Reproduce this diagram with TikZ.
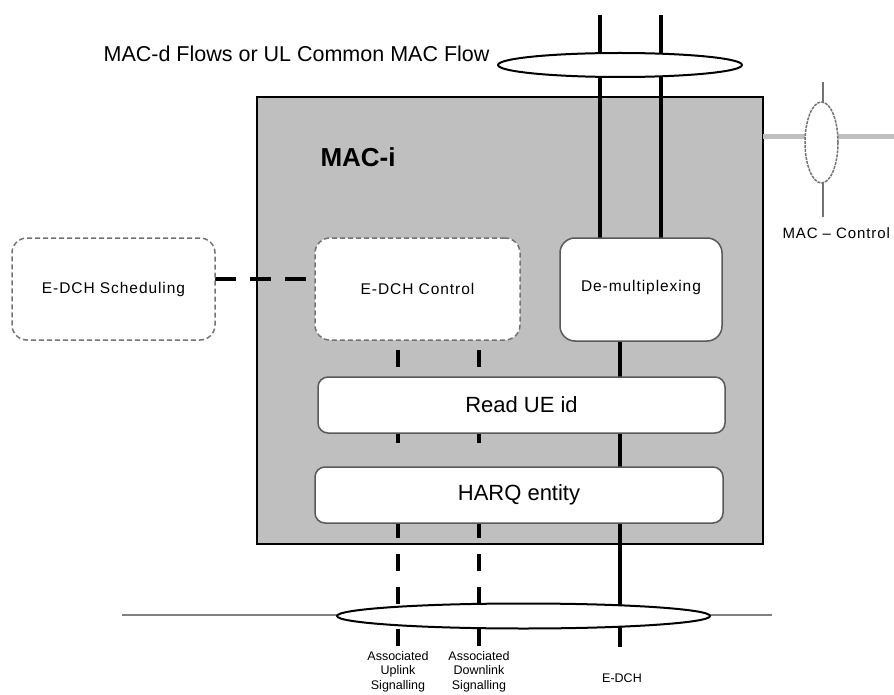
\documentclass[tikz,border=0pt]{standalone}
\usepackage{fontspec}
\setmainfont{Liberation Sans}
\newfontfamily\spacedfont[LetterSpace=6]{Liberation Sans}
\usetikzlibrary{shapes.geometric}
\pgfdeclarelayer{back}
\pgfdeclarelayer{mid}
\pgfsetlayers{back,mid,main}
\tikzset{
  every node/.style={font=\fontsize{17}{20}\selectfont},
  block/.style={draw=boxline, line width=1.5pt, fill=white, rounded corners=15pt,
    inner sep=0pt, outer sep=0pt, font=\spacedfont\fontsize{15.5}{18}\selectfont},
  dashedbox/.style={draw=dashline, dash pattern=on 5pt off 3pt},
  bar/.style={block, rounded corners=10pt, font=\fontsize{22}{26}\selectfont},
  flow/.style={line width=4pt, black},
  assoc/.style={line width=4pt, black, dash pattern=on 17pt off 16pt},
  ring/.style={ellipse, draw, line width=2pt, fill=white, inner sep=0pt, outer sep=0pt},
  siglabel/.style={align=center, inner sep=0pt, font=\fontsize{12.5}{14.5}\selectfont}
}

\begin{document}
\begin{tikzpicture}[x=1pt, y=-1pt, line join=round]
  % Fixed bounding box (reference size).
  \path[use as bounding box] (0,0) rectangle (894,695);

  % Colors.
  \colorlet{macgray}{black!25}
  \colorlet{boxline}{black!65}
  \colorlet{dashline}{black!55}
  \colorlet{busgray}{black!50}

  % MAC-i entity.
  \begin{pgfonlayer}{back}
    \node[draw, line width=1.5pt, fill=macgray, minimum width=506pt, minimum height=447pt,
      inner sep=0pt, outer sep=0pt] (maci) at (510,320.5) {};
  \end{pgfonlayer}
  \node[anchor=base west, font=\bfseries\fontsize{26}{30}\selectfont] (macilabel) at (317,167) {MAC-i};

  % Functional blocks.
  \node[block, dashedbox, minimum width=203pt, minimum height=102pt] (sched) at (113.5,289) {E-DCH Scheduling};
  \node[block, dashedbox, minimum width=205pt, minimum height=102pt] (ctrl) at (417.5,289) {E-DCH Control\hspace{9pt}};
  \node[block, minimum width=162pt, minimum height=103pt] (demux) at (641,289.5) {De-multiplexing\raisebox{0pt}[0pt][7pt]{}};
  \node[bar, minimum width=407pt, minimum height=56pt] (readue) at (521.5,405) {Read UE id};
  \node[bar, minimum width=408pt, minimum height=56pt] (harq) at (519,495) {HARQ entity};

  % Flow rings.
  \node[ring, minimum width=244pt, minimum height=24pt] (flowring) at (620,65) {};
  \node[anchor=base east, font=\fontsize{21.5}{24}\selectfont] (flowlabel) at (493,62) {MAC-d Flows or UL Common MAC Flow};
  \node[ring, minimum width=373pt, minimum height=25pt] (assocring) at (523.5,616) {};
  \node[ring, draw=dashline, line width=1.5pt, dash pattern=on 3pt off 1pt,
    minimum width=33pt, minimum height=81pt] (ctrlring) at (821.5,142.5) {};
  \node[anchor=west, font=\spacedfont\fontsize{15}{18}\selectfont] (ctrllabel) at (779,233) {MAC – Control};

  % Line ends.
  \coordinate (flowa) at (600,15);
  \coordinate (flowb) at (661,15);
  \coordinate (edch) at (620,647);
  \coordinate (ul) at (398,647);
  \coordinate (dl) at (479,647);
  \coordinate (busl) at (122,615);
  \coordinate (busr) at (772,615);
  \coordinate (ctrlr) at (894,137);
  \coordinate (ctrltop) at (823,82);
  \coordinate (ctrlbot) at (823,217);

  \begin{pgfonlayer}{mid}
    % MAC-d flows and E-DCH.
    \draw[flow] (flowa) -- (flowa |- demux.north);
    \draw[flow] (flowb) -- (flowb |- demux.north);
    \draw[flow] (edch |- demux.south) -- (edch);

    % Associated signalling.
    \foreach \sig in {ul,dl} {
      \draw[assoc, dash phase=23pt] (\sig |- ctrl.south) -- (\sig |- readue.north);
      \draw[assoc, dash pattern=on 10pt off 30pt] (\sig |- readue.south) -- (\sig |- harq.north);
      \draw[assoc, dash phase=2pt] (\sig |- harq.south) -- (\sig |- assocring.north);
      \draw[assoc] (\sig |- assocring.south) -- (\sig);
    }
    \draw[assoc, dash pattern=on 21pt off 14pt] ([yshift=10pt]sched.east) -- ([yshift=10pt]ctrl.west);

    % Transport bus and MAC control.
    \draw[busgray, line width=2pt] (busl) -- (busr);
    \draw[macgray, line width=5pt] (maci.east |- ctrlr) -- (ctrlr);
    \draw[dashline, line width=2pt] (ctrltop) -- (ctrlbot);
  \end{pgfonlayer}

  % Labels below.
  \node[siglabel, anchor=north] (ullabel) at (398,651) {Associated\\Uplink\\Signalling};
  \node[siglabel, anchor=north] (dllabel) at (479,651) {Associated\\Downlink\\Signalling};
  \node[siglabel] (edchlabel) at (622,678) {E-DCH};
\end{tikzpicture}
\end{document}
